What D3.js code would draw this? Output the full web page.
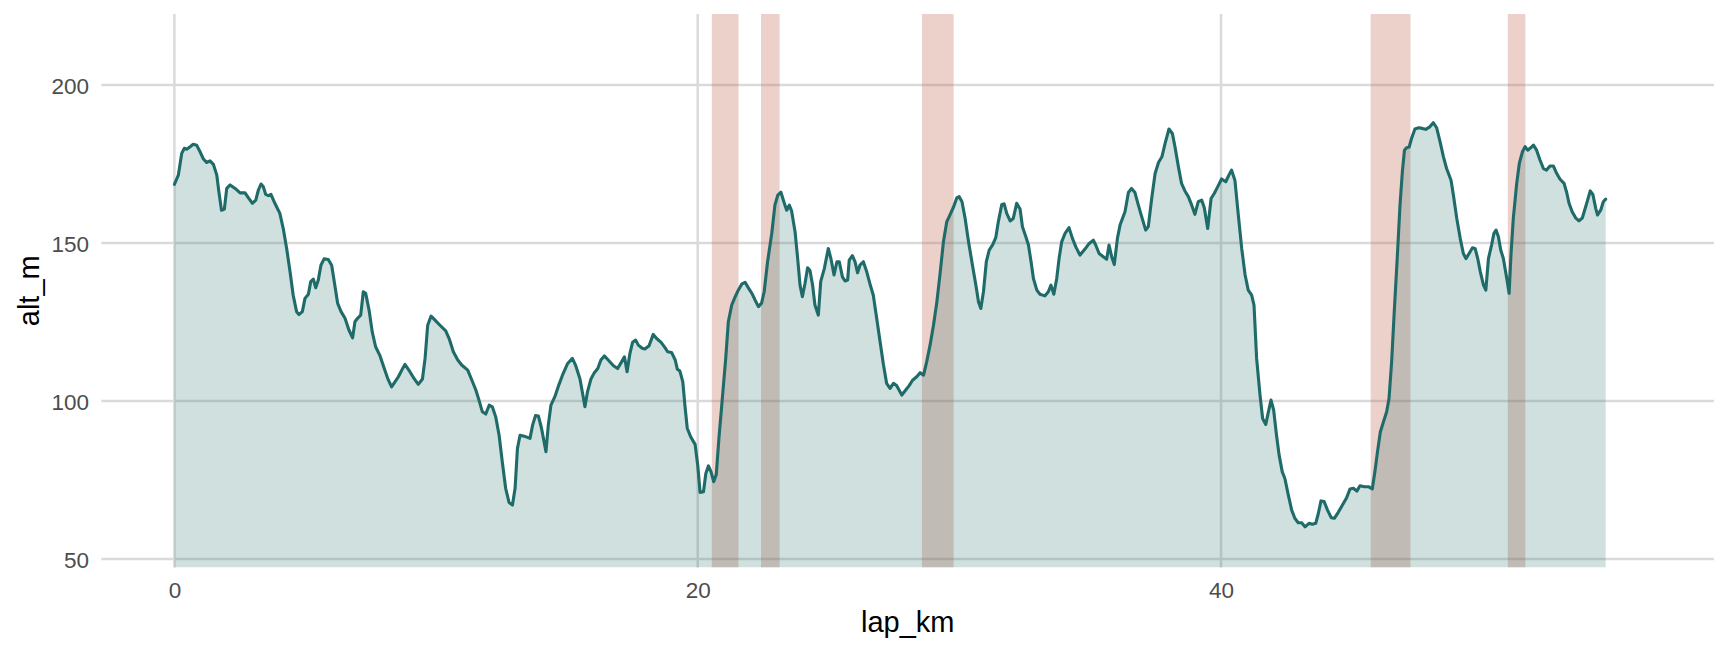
<!DOCTYPE html>
<html>
<head>
<meta charset="utf-8">
<script src="https://cdn.jsdelivr.net/npm/d3@7"></script>
<style>
  html, body { margin: 0; padding: 0; background: #ffffff; }
  svg { display: block; }
  text { font-family: "Liberation Sans", Arial, Helvetica, sans-serif; }
</style>
</head>
<body>
<svg id="chart" width="1728" height="652"></svg>
<script>
// ---- data ----
const lapKm = [
  0, 0.15, 0.28, 0.38, 0.47, 0.6, 0.72, 0.85, 0.98, 1.11, 1.23, 1.36, 1.49, 1.62, 1.7, 1.8, 1.91, 2.0, 2.13, 2.32,
  2.51, 2.7, 2.83, 2.98, 3.11, 3.21, 3.31, 3.4, 3.49, 3.59, 3.69, 3.84, 4.03, 4.16, 4.29, 4.42, 4.54, 4.67, 4.76, 4.89,
  4.99, 5.12, 5.21, 5.31, 5.4, 5.5, 5.6, 5.72, 5.88, 6.01, 6.11, 6.24, 6.37, 6.52, 6.67, 6.81, 6.9, 7.0, 7.12, 7.22,
  7.31, 7.44, 7.56, 7.69, 7.86, 8.02, 8.15, 8.3, 8.43, 8.56, 8.69,
  8.81, 9.0, 9.17, 9.32, 9.48, 9.58, 9.68, 9.81, 9.96, 10.15, 10.37, 10.5, 10.66, 10.83, 10.98, 11.21, 11.37, 11.52,
  11.64, 11.77, 11.9, 12.03, 12.15, 12.28, 12.41, 12.53, 12.66, 12.79, 12.92, 13.02, 13.11, 13.21, 13.37, 13.59, 13.69,
  13.8, 13.91, 14.03, 14.2, 14.29, 14.39, 14.54, 14.7, 14.86, 15.03, 15.21, 15.33, 15.5, 15.6, 15.69, 15.79, 15.92,
  16.05, 16.18, 16.3, 16.43, 16.58, 16.78, 16.94, 17.09, 17.2, 17.3, 17.41, 17.51, 17.63, 17.73, 17.88,
  17.98, 18.14, 18.3, 18.43, 18.6, 18.75, 18.85, 19.0, 19.14, 19.22, 19.32, 19.43, 19.51, 19.6, 19.73, 19.9, 20.0,
  20.09, 20.22, 20.31, 20.41, 20.51, 20.61, 20.71, 20.81, 20.94, 21.07, 21.17, 21.3, 21.43, 21.55, 21.68, 21.81, 21.93,
  22.09, 22.19, 22.32, 22.44, 22.54, 22.67, 22.83, 22.95, 23.06, 23.18, 23.31, 23.4, 23.5, 23.59, 23.72, 23.82, 23.91,
  24.0, 24.1, 24.2, 24.29, 24.39, 24.48, 24.61, 24.7, 24.84, 24.99, 25.09, 25.21, 25.32, 25.41, 25.53, 25.63, 25.73,
  25.79, 25.91, 26.01, 26.11, 26.2, 26.33, 26.46, 26.58, 26.71, 26.84, 26.97, 27.1, 27.22,
  27.35, 27.48, 27.6, 27.8, 27.95, 28.08, 28.21, 28.37, 28.5, 28.63, 28.75, 28.88, 29.01, 29.14, 29.27, 29.39, 29.52,
  29.65, 29.78, 29.9, 29.99, 30.1, 30.22, 30.35, 30.5, 30.63, 30.73, 30.82, 30.92, 31.03, 31.14, 31.27, 31.39, 31.49,
  31.62, 31.71, 31.81, 31.94, 32.06, 32.19, 32.32, 32.41, 32.54, 32.64, 32.74, 32.83, 32.96, 33.08, 33.27, 33.4, 33.5,
  33.61, 33.72, 33.81, 33.91, 34.04, 34.19, 34.32, 34.45, 34.61, 34.8, 34.96, 35.12, 35.21, 35.34, 35.5, 35.63, 35.72,
  35.82, 35.92, 36.04, 36.14,
  36.33, 36.46, 36.58, 36.71, 36.84, 36.97, 37.12, 37.22, 37.35, 37.48, 37.61, 37.74, 37.86, 38.01, 38.14, 38.24, 38.37,
  38.49, 38.62, 38.75, 38.88, 39.0, 39.13, 39.26, 39.36, 39.49, 39.62, 39.74, 39.87, 40.02, 40.18, 40.3, 40.4, 40.53,
  40.66, 40.79, 40.92, 41.04, 41.17, 41.26, 41.36, 41.49, 41.59, 41.71, 41.81, 41.91, 42.01, 42.12, 42.22, 42.34, 42.44,
  42.57, 42.7, 42.82, 42.95, 43.08, 43.21, 43.36, 43.49, 43.62, 43.72, 43.82, 43.94, 44.07, 44.21, 44.33, 44.48, 44.64,
  44.8, 44.93, 45.06, 45.19, 45.31, 45.48, 45.63,
  45.78, 45.88, 45.98, 46.09, 46.21, 46.33, 46.42, 46.52, 46.62, 46.74, 46.84, 46.93, 47.01, 47.09, 47.19, 47.28, 47.41,
  47.56, 47.69, 47.82, 47.98, 48.11, 48.24, 48.37, 48.5, 48.62, 48.79, 48.88, 49.01, 49.14, 49.26, 49.36, 49.48, 49.61,
  49.71, 49.81, 49.91, 50.03, 50.12, 50.22, 50.34, 50.43, 50.51, 50.6, 50.69, 50.79, 50.92, 51.01, 51.08, 51.17, 51.3,
  51.4, 51.52, 51.62, 51.72, 51.81, 51.94, 52.06, 52.19, 52.32, 52.44, 52.57, 52.7, 52.83, 52.95, 53.11, 53.21, 53.3,
  53.42, 53.55, 53.68, 53.81, 53.91, 54.01, 54.11, 54.21, 54.32, 54.39, 54.51, 54.61, 54.7
];
const altM = [
  168.6, 171.5, 178.4, 180, 179.7, 180.5, 181.3, 181, 178.9, 176.6, 175.5, 176, 174.9, 171.5, 166.2, 160.4, 160.8, 167.3, 168.4, 167.3,
  165.9, 165.9, 164.3, 162.6, 163.6, 166.8, 168.7, 167.8, 165.4, 165, 165.4, 162.6, 159.4, 154.6, 148.3, 140.9, 133.5, 128.3, 127.4, 128.3,
  132.5, 133.8, 137.8, 138.6, 135.9, 138.3, 143, 145, 144.8, 143, 137.8, 130.9, 128.3, 126.2, 122.5, 120, 125.1, 126.2, 127.2, 134.6,
  134.1, 128.8, 121.9, 117.2, 114.3, 110.3, 107.2, 104.5, 106.1, 107.7, 109.8,
  111.6, 109.3, 107, 105.3, 107, 113.5, 124, 126.9, 125.6, 124, 122.2, 119.8, 115.6, 113, 111.4, 109.8, 106.6, 103.5,
  100.3, 96.6, 95.9, 98.7, 98.2, 95, 89.2, 80.8, 72.4, 67.9, 67.1, 72.4, 85, 89.2, 88.9, 88.2, 92.4,
  95.4, 95.3, 91.4, 84, 92.4, 98.7, 101.4, 105.3, 108.8, 111.9, 113.5, 111.4, 107, 102.4, 98.2, 103, 107,
  109, 110.3, 113, 114.3, 113, 111.2, 110.3, 112.4, 114, 109.3, 115.1, 118.6, 119.3, 117.7, 116.7,
  116.5, 117.5, 121.1, 119.8, 118.6, 116.9, 115.6, 115.4, 113, 110.1, 109.5, 106.1, 98.7, 91.4, 88.7, 86.3, 79.7,
  71.1, 71.3, 77.1, 79.5, 77.6, 74.5, 76.8, 88.2, 100.8, 113.5, 125.1, 130.4, 133, 135.1, 137, 137.6, 135.9,
  133.8, 132, 129.9, 131, 134.6, 144.1, 153.1, 162, 165.2, 166.1, 162.6, 160.4, 162, 160.1, 153.6, 145.1, 136.7,
  133, 137.2, 142.2, 141.3, 136.7, 130.4, 127.2, 137.8, 142, 148.3, 145.1, 139.9, 144.1, 144.1, 139.3, 138, 138.3,
  144.6, 146, 144.1, 140.6, 143, 144.1, 140.9, 137.2, 133.5, 126.2, 118.8, 111.4, 105.6,
  104, 105.6, 104.9, 101.9, 103.5, 104.9, 106.6, 107.7, 109, 108.2, 112.4, 117.7, 124, 131.4, 140.9, 150.4, 156.8,
  159.1, 161.5, 164.3, 164.7, 163.1, 157.8, 150.4, 143, 136.7, 131.4, 129.3, 134.6, 144.1, 147.8, 149.4, 151.7, 156.8,
  162.2, 162.4, 159.4, 157, 157.8, 162.6, 160.8, 155.2, 152, 149.4, 144.1, 138.8, 135.1, 133.8, 133.3, 134.6, 136.7,
  133.8, 138.8, 145.1, 150.4, 153.1, 154.9, 151.5, 148.8, 146.2, 148.1, 149.9, 150.9, 149.4, 146.7, 145.7, 144.9, 149.4,
  145.7, 143.2, 151.5, 155.7,
  159.9, 166, 167.3, 166, 162, 158.3, 154.1, 155.2, 164.1, 172, 175.5, 177.3, 181.5, 186.1, 184.7, 180.5, 174.2,
  168.9, 166.5, 164.7, 162, 159.1, 163.1, 163.6, 161.2, 154.6, 164.1, 165.7, 167.8, 170.3, 169.4, 171.5, 173.1, 169.9,
  158.9, 148.3, 139.9, 135.1, 133.5, 130.4, 113.5, 101.9, 94.5, 92.6, 96.6, 100.3, 97.2, 89.2, 82.9, 77.6, 75.5,
  70.3, 65.5, 62.9, 61.5, 61.5, 60.2, 61.3, 61, 61.3, 64.5, 68.4, 68.2, 65.5, 63.1, 62.9, 64.8, 67.1,
  69.4, 72.2, 72.4, 71.5, 73.2, 72.9, 72.9,
  72.2, 77.6, 84, 90.3, 93.5, 96.6, 100.8, 112.4, 128.3, 146.2, 162, 172.6, 179.4, 180.2, 180.4, 183.1, 186.1,
  186.5, 186.3, 186, 186.8, 188.1, 186.5, 182.1, 177.3, 173.6, 169.9, 165.2, 157.8, 151.5, 146.7, 145.1, 146.7, 148.5,
  148.3, 145.1, 140.9, 136.7, 135.1, 145.1, 149.4, 153.1, 154.1, 152, 147.8, 145.1, 138.8, 134.1, 146.2, 157.8, 168.9,
  175.2, 178.9, 180.5, 179.4, 180, 181, 179.4, 176.3, 173.6, 173.1, 174.4, 174.4, 172, 170.3, 168.9, 166, 162.6,
  159.9, 158, 157, 158, 160.8, 163.6, 166.5, 165.4, 161, 158.9, 160.4, 163.1, 163.9
];
// shaded sections (km)
const zoneStart = [20.54, 22.42, 28.57, 45.72, 50.96];
const zoneEnd   = [21.56, 23.13, 29.78, 47.24, 51.63];
// axis ticks
const xTicks = [0, 20, 40];
const yTicks = [50, 100, 150, 200];
const xLabel = "lap_km";
const yLabel = "alt_m";

// ---- layout ----
const panel = { left: 101.4, right: 1714, top: 14, bottom: 567.6 };
const x = d3.scaleLinear().domain([-2.79, 58.84]).range([panel.left, panel.right]);
const y = d3.scaleLinear().domain([47.3, 222.5]).range([panel.bottom, panel.top]);

const lineColor = "#1f6b69";
const svg = d3.select("#chart");

svg.append("defs").append("clipPath").attr("id", "clip")
  .append("rect").attr("x", panel.left).attr("y", panel.top)
  .attr("width", panel.right - panel.left).attr("height", panel.bottom - panel.top);

// grid
const grid = svg.append("g").attr("class", "grid");
grid.selectAll("line.h").data(yTicks).join("line")
  .attr("x1", panel.left).attr("x2", panel.right)
  .attr("y1", d => y(d)).attr("y2", d => y(d))
  .attr("stroke", "#dadada").attr("stroke-width", 2.5);
grid.selectAll("line.v").data(xTicks).join("line")
  .attr("y1", panel.top).attr("y2", panel.bottom)
  .attr("x1", d => x(d)).attr("x2", d => x(d))
  .attr("stroke", "#dadada").attr("stroke-width", 2.5);

const data = lapKm.map((k, i) => ({ km: k, alt: altM[i] }));
const zones = zoneStart.map((s, i) => ({ s, e: zoneEnd[i] }));

const plot = svg.append("g").attr("clip-path", "url(#clip)");

// shaded zones
plot.selectAll("rect.zone").data(zones).join("rect")
  .attr("class", "zone")
  .attr("x", d => x(d.s)).attr("width", d => x(d.e) - x(d.s))
  .attr("y", panel.top).attr("height", panel.bottom - panel.top)
  .attr("fill", "#c0624e").attr("fill-opacity", 0.3);

// area
plot.append("path").datum(data)
  .attr("d", d3.area().x(d => x(d.km)).y0(panel.bottom).y1(d => y(d.alt)))
  .attr("fill", lineColor).attr("fill-opacity", 0.21);

// line
plot.append("path").datum(data)
  .attr("d", d3.line().x(d => x(d.km)).y(d => y(d.alt)))
  .attr("fill", "none").attr("stroke", lineColor)
  .attr("stroke-width", 3.1).attr("stroke-linejoin", "round").attr("stroke-linecap", "round");

// axes (text only, like theme_minimal)
const yAxis = d3.axisLeft(y).tickValues(yTicks).tickSize(0).tickPadding(0);
const gy = svg.append("g").attr("transform", `translate(89,0)`).call(yAxis);
gy.select(".domain").remove();
gy.selectAll("text").attr("font-size", 22.5).attr("fill", "#4d4d4d")
  .attr("font-family", "'Liberation Sans', Arial, sans-serif").attr("dy", "0.36em").attr("x", 0);

const xAxis = d3.axisBottom(x).tickValues(xTicks).tickSize(0).tickPadding(0);
const gx = svg.append("g").attr("transform", `translate(0,598)`).call(xAxis);
gx.select(".domain").remove();
gx.selectAll("text").attr("font-size", 22.5).attr("fill", "#4d4d4d")
  .attr("font-family", "'Liberation Sans', Arial, sans-serif").attr("dy", 0).attr("y", 0);

// titles
svg.append("text").attr("x", (panel.left + panel.right) / 2).attr("y", 632)
  .attr("text-anchor", "middle").attr("font-size", 29).attr("fill", "#000").text(xLabel);
svg.append("text").attr("transform", `translate(39,${(panel.top + panel.bottom) / 2}) rotate(-90)`)
  .attr("text-anchor", "middle").attr("font-size", 29).attr("fill", "#000").text(yLabel);
</script>
</body>
</html>
